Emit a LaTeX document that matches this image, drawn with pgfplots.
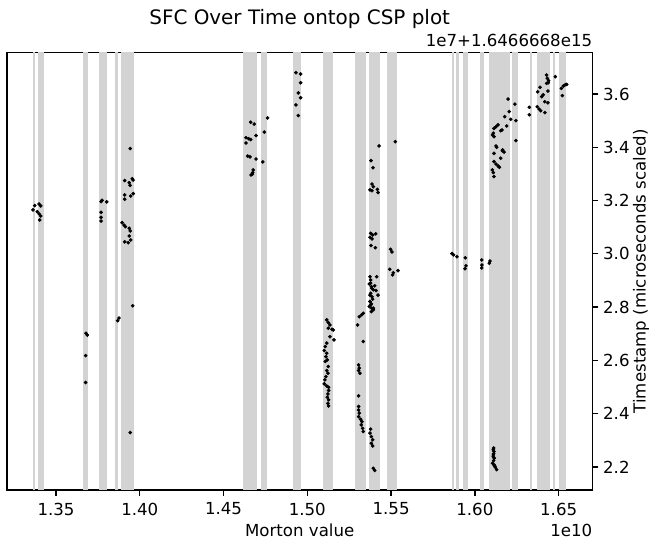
\documentclass[border=0pt]{standalone}
\usepackage{fontspec}
\setmainfont{DejaVu Sans}
\usepackage{pgfplots}
\pgfplotsset{compat=1.18}
\definecolor{bandgray}{HTML}{D3D3D3}
\newcommand{\band}[2]{\addplot[fill=bandgray,draw=none,forget plot] coordinates {(#1,2.0) (#1,4.0) (#2,4.0) (#2,2.0)} -- cycle;}
\begin{document}
\begin{tikzpicture}
\useasboundingbox (-5.04bp,-37.44bp) rectangle (463.0bp,352.8bp);
\begin{axis}[
  name=ax, at={(0,0)}, anchor=south west,
  scale only axis, width=421.56bp, height=314.86bp,
  xmin=1.32076, xmax=1.67017, ymin=2.1137, ymax=3.755,
  scaled ticks=false,
  xtick={1.35,1.40,1.45,1.50,1.55,1.60,1.65},
  ytick={2.2,2.4,2.6,2.8,3.0,3.2,3.4,3.6},
  xticklabel style={yshift=-1.5bp,/pgf/number format/.cd,fixed,fixed zerofill,precision=2},
  yticklabel style={/pgf/number format/.cd,fixed,fixed zerofill,precision=1},
  /pgf/number format/assume math mode=true,
  xtick pos=bottom, ytick pos=right, yticklabel pos=right,
  tick align=outside, major tick length=4.2bp,
  every tick/.style={black, line width=0.96bp},
  axis line style={line width=0.96bp, black},
  every tick label/.append style={font=\fontsize{12}{14}\selectfont},
  label style={font=\fontsize{12}{14}\selectfont},
  xlabel={Morton value},
  xlabel style={at={(axis description cs:0.5,0)}, anchor=base, yshift=-33.5bp},
  ylabel={Timestamp (microseconds scaled)},
  ylabel style={at={(axis description cs:1.0828,0.5)}, anchor=center, rotate=0},
  clip=true,
]
\band{1.3362}{1.3376}
\band{1.3391}{1.3427}
\band{1.3659}{1.3694}
\band{1.3758}{1.3807}
\band{1.3850}{1.3872}
\band{1.3887}{1.3963}
\band{1.4619}{1.4698}
\band{1.4725}{1.4761}
\band{1.4916}{1.4965}
\band{1.5093}{1.5156}
\band{1.5284}{1.5348}
\band{1.5368}{1.5432}
\band{1.5475}{1.5537}
\band{1.5863}{1.5877}
\band{1.5890}{1.5905}
\band{1.5929}{1.5956}
\band{1.6033}{1.6055}
\band{1.6083}{1.6209}
\band{1.6223}{1.6257}
\band{1.6326}{1.6338}
\band{1.6372}{1.6449}
\band{1.6465}{1.6480}
\band{1.6501}{1.6542}
\addplot[only marks, mark=*, mark size=1.1bp, mark options={draw=black,fill=black}] table {
x y
1.3363 3.165
1.3373 3.181
1.3399 3.187
1.3409 3.180
1.3388 3.158
1.3399 3.150
1.3409 3.142
1.3403 3.127
1.3679 2.702
1.3687 2.695
1.3677 2.618
1.3677 2.517
1.3769 3.196
1.3775 3.201
1.3803 3.195
1.3769 3.156
1.3769 3.137
1.3769 3.123
1.3868 2.749
1.3876 2.759
1.3943 3.395
1.3910 3.275
1.3937 3.267
1.3942 3.257
1.3955 3.282
1.3960 3.277
1.3910 3.221
1.3910 3.205
1.3946 3.217
1.3961 3.226
1.3894 3.117
1.3906 3.108
1.3914 3.102
1.3937 3.096
1.3943 3.086
1.3937 3.067
1.3946 3.052
1.3931 3.042
1.3910 3.045
1.3958 2.805
1.3943 2.329
1.4662 3.494
1.4683 3.487
1.4634 3.436
1.4650 3.432
1.4662 3.429
1.4694 3.444
1.4634 3.416
1.4644 3.367
1.4658 3.364
1.4694 3.356
1.4677 3.315
1.4674 3.305
1.4664 3.296
1.4672 3.299
1.4763 3.510
1.4743 3.457
1.4734 3.345
1.4932 3.680
1.4960 3.675
1.4960 3.642
1.4946 3.604
1.4960 3.586
1.4932 3.559
1.4946 3.519
1.5116 2.752
1.5125 2.742
1.5135 2.733
1.5125 2.721
1.5147 2.717
1.5155 2.714
1.5135 2.689
1.5159 2.677
1.5116 2.665
1.5107 2.652
1.5101 2.637
1.5116 2.627
1.5111 2.614
1.5119 2.602
1.5107 2.596
1.5125 2.577
1.5116 2.562
1.5123 2.552
1.5111 2.539
1.5105 2.527
1.5101 2.512
1.5116 2.504
1.5127 2.499
1.5127 2.487
1.5123 2.474
1.5119 2.462
1.5127 2.452
1.5123 2.439
1.5127 2.429
1.5334 2.777
1.5324 2.771
1.5310 2.764
1.5300 2.733
1.5334 2.671
1.5306 2.583
1.5310 2.571
1.5306 2.562
1.5314 2.552
1.5306 2.467
1.5306 2.427
1.5306 2.414
1.5310 2.402
1.5306 2.389
1.5318 2.379
1.5326 2.370
1.5322 2.358
1.5330 2.345
1.5334 2.333
1.5378 2.342
1.5374 2.327
1.5382 2.314
1.5390 2.302
1.5382 2.289
1.5390 2.279
1.5394 2.195
1.5402 2.187
1.5374 2.821
1.5378 2.808
1.5384 2.796
1.5394 2.790
1.5382 2.783
1.5428 3.405
1.5380 3.350
1.5392 3.323
1.5386 3.262
1.5394 3.252
1.5374 3.240
1.5386 3.237
1.5418 3.242
1.5422 3.230
1.5378 3.077
1.5390 3.071
1.5408 3.075
1.5374 3.062
1.5386 3.056
1.5380 3.031
1.5406 3.023
1.5374 2.914
1.5378 2.902
1.5414 2.914
1.5370 2.887
1.5382 2.877
1.5394 2.865
1.5378 2.852
1.5410 2.862
1.5422 2.845
1.5386 2.839
1.5374 2.821
1.5382 2.812
1.5370 2.802
1.5394 2.796
1.5378 2.890
1.5386 2.870
1.5374 2.845
1.5390 2.830
1.5402 2.880
1.5525 3.421
1.5497 3.017
1.5505 3.007
1.5492 2.942
1.5513 2.929
1.5509 2.921
1.5541 2.937
1.5863 3.001
1.5873 2.996
1.5893 2.989
1.5943 2.985
1.5947 2.955
1.5941 2.944
1.6041 2.977
1.6042 2.958
1.6041 2.947
1.6090 2.973
1.6086 2.965
1.6112 2.271
1.6114 2.258
1.6110 2.245
1.6116 2.233
1.6112 2.224
1.6106 2.214
1.6114 2.208
1.6122 2.199
1.6130 2.190
1.6110 2.265
1.6112 2.250
1.6110 2.238
1.6118 2.204
1.6104 3.315
1.6110 3.305
1.6114 3.290
1.6114 3.346
1.6126 3.337
1.6138 3.330
1.6146 3.325
1.6114 3.377
1.6154 3.359
1.6166 3.390
1.6174 3.382
1.6164 3.387
1.6126 3.405
1.6130 3.400
1.6106 3.446
1.6114 3.440
1.6110 3.453
1.6114 3.471
1.6126 3.477
1.6138 3.484
1.6154 3.462
1.6162 3.465
1.6178 3.515
1.6190 3.480
1.6205 3.534
1.6214 3.505
1.6245 3.500
1.6198 3.581
1.6239 3.562
1.6245 3.425
1.6325 3.550
1.6325 3.522
1.6375 3.608
1.6389 3.625
1.6399 3.590
1.6408 3.597
1.6372 3.552
1.6384 3.543
1.6393 3.537
1.6417 3.571
1.6436 3.567
1.6418 3.530
1.6436 3.611
1.6428 3.671
1.6432 3.659
1.6440 3.650
1.6428 3.640
1.6438 3.642
1.6480 3.665
1.6516 3.621
1.6528 3.630
1.6540 3.635
1.6548 3.636
1.6522 3.594
};
\end{axis}
\node[anchor=base, font=\fontsize{14.4}{17}\selectfont] at ([yshift=20bp]ax.north) {SFC Over Time ontop CSP plot};
\node[anchor=base east, font=\fontsize{12}{14}\selectfont, inner sep=0pt] at ([yshift=4.5bp]ax.north east) {1e7+1.6466668e15};
\node[anchor=base east, font=\fontsize{12}{14}\selectfont, inner sep=0pt] at ([yshift=-33.5bp]ax.south east) {1e10};
\end{tikzpicture}
\end{document}
